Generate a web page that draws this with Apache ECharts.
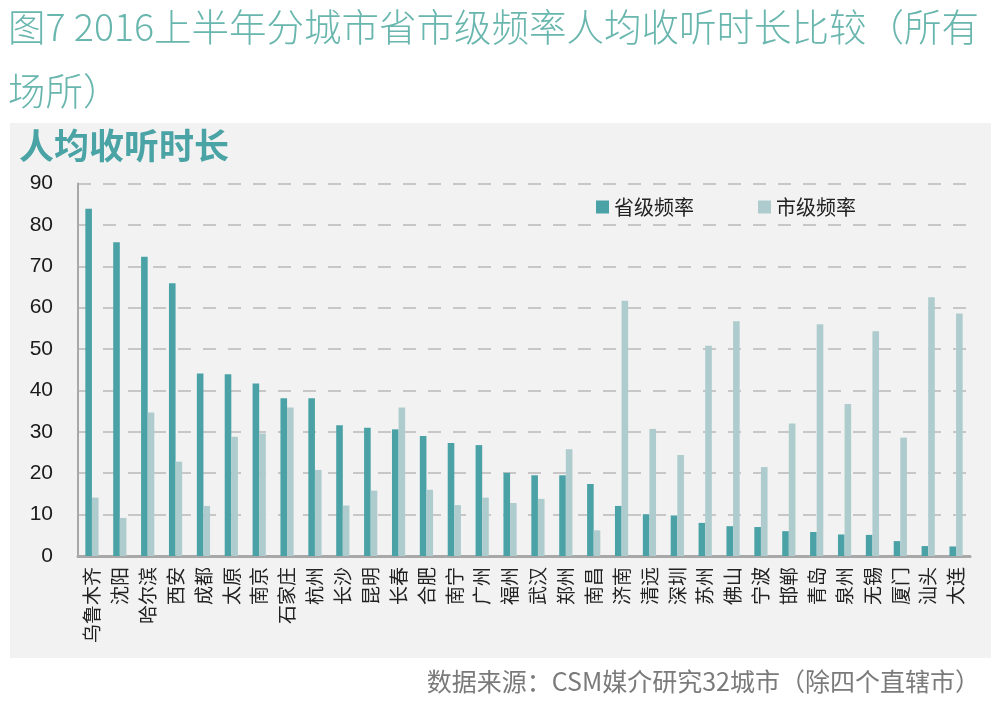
<!DOCTYPE html>
<html>
<head>
<meta charset="utf-8">
<script src="https://cdn.jsdelivr.net/npm/echarts@6/dist/echarts.min.js"></script>
<style>html,body{margin:0;padding:0;background:#fff;}#c{width:1003px;height:710px;}</style>
</head>
<body>
<div id="c"></div>
<script>
const categories = ['乌鲁木齐','沈阳','哈尔滨','西安','成都','太原','南京','石家庄','杭州','长沙','昆明','长春','合肥','南宁','广州','福州','武汉','郑州','南昌','济南','清远','深圳','苏州','佛山','宁波','邯郸','青岛','泉州','无锡','厦门','汕头','大连'];
const provinceValues = [83.9,75.8,72.3,65.9,44.1,43.9,41.7,38.1,38.1,31.6,31.0,30.6,29.0,27.3,26.8,20.1,19.5,19.5,17.4,12.1,10.1,9.8,8.0,7.2,7.0,6.0,5.8,5.2,5.1,3.6,2.4,2.3];
const cityValues = [14.1,9.2,34.7,22.8,12.1,28.8,29.6,35.9,20.8,12.2,15.8,35.9,16.0,12.3,14.1,12.8,13.8,25.8,6.2,61.7,30.7,24.4,50.8,56.7,21.5,32.0,56.0,36.7,54.3,28.6,62.5,58.6];
const seriesNames = ['省级频率','市级频率'];
const yTicks = [0,10,20,30,40,50,60,70,80,90];

const chart = echarts.init(document.getElementById('c'));
const cjk = '"Noto Sans CJK SC", "Noto Sans", sans-serif';
chart.setOption({
  animation: false,
  backgroundColor: '#ffffff',
  title: {
    text: '图7 2016上半年分城市省市级频率人均收听时长比较（所有\n场所）',
    left: 8, top: -5, padding: 0,
    textStyle: { fontFamily: cjk, fontSize: 37.5, fontWeight: 300, color: '#69b6ae', lineHeight: 64 }
  },
  graphic: [
    { type: 'rect', z: -10, shape: { x: 10, y: 123, width: 981, height: 535 }, style: { fill: '#f2f2f2' } },
    { type: 'text', x: 19, y: 128, style: { text: '人均收听时长', font: 'bold 35px "Noto Sans CJK SC"', fill: '#4aa3a5' } },
    { type: 'text', x: 980, y: 669, style: { text: '数据来源：CSM媒介研究32城市（除四个直辖市）', font: '25px "Noto Sans CJK SC"', fill: '#7a7a7a', textAlign: 'right' } }
  ],
  legend: {
    data: seriesNames,
    left: 591, top: 192,
    icon: 'rect', itemWidth: 13, itemHeight: 13, itemGap: 64,
    textStyle: { fontFamily: cjk, fontSize: 20, color: '#222' }
  },
  grid: { left: 78, right: 33, top: 183.5, bottom: 154, containLabel: false },
  xAxis: {
    type: 'category',
    data: categories,
    axisLine: { lineStyle: { color: '#a8a8a8', width: 3 } },
    axisTick: { show: false },
    axisLabel: { interval: 0, rotate: 90, margin: 11, fontFamily: cjk, fontSize: 19, color: '#222' }
  },
  yAxis: {
    type: 'value', min: yTicks[0], max: yTicks[yTicks.length - 1], interval: 10,
    axisLine: { show: true, lineStyle: { color: '#a8a8a8', width: 2 } },
    axisTick: { show: false },
    axisLabel: { margin: 25, fontFamily: '"Liberation Sans", Arial, sans-serif', fontSize: 21, color: '#1a1a1a' },
    splitLine: { show: true, lineStyle: { color: '#b9b9b9', width: 1.5, type: [13, 12] } }
  },
  series: [
    { name: seriesNames[0], type: 'bar', data: provinceValues, barWidth: 6.6, barGap: '0%', itemStyle: { color: '#4aa2a6' } },
    { name: seriesNames[1], type: 'bar', data: cityValues, barWidth: 6.6, barGap: '0%', itemStyle: { color: '#aecccd' } }
  ]
});
</script>
</body>
</html>
